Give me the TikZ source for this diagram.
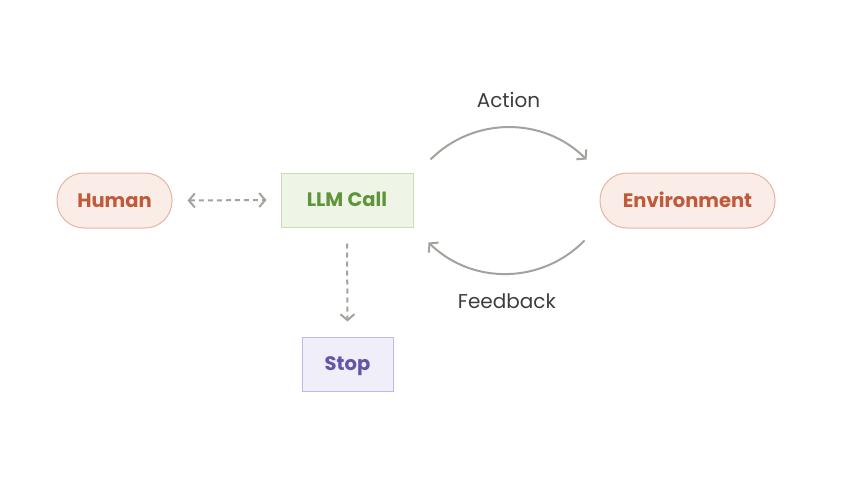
\documentclass[tikz,border=0pt]{standalone}
\usepackage{fontspec}
\setmainfont{Poppins}
\usetikzlibrary{arrows.meta,positioning}
\definecolor{pillfill}{HTML}{FAEDE8}
\definecolor{pilledge}{HTML}{E9B3A1}
\definecolor{pilltext}{HTML}{BF5A3A}
\definecolor{llmfill}{HTML}{EEF5E6}
\definecolor{llmedge}{HTML}{C6E0B2}
\definecolor{llmtext}{HTML}{5E953A}
\definecolor{stopfill}{HTML}{EFEEF9}
\definecolor{stopedge}{HTML}{BFB8E6}
\definecolor{stoptext}{HTML}{6356A8}
\definecolor{linkgray}{HTML}{A3A29C}
\definecolor{labeltext}{HTML}{3D3D3A}
\tikzset{
  boxtext/.style={text height=15pt, text depth=2pt, font=\fontsize{19.5}{22}\selectfont\bfseries},
  pill/.style={boxtext, draw=pilledge, fill=pillfill, text=pilltext, rounded corners=27pt, line width=1pt,
    minimum height=55pt},
  llmbox/.style={boxtext, draw=llmedge, fill=llmfill, text=llmtext, line width=1pt,
    minimum width=132pt, minimum height=54pt},
  stopbox/.style={boxtext, draw=stopedge, fill=stopfill, text=stoptext, line width=1pt,
    minimum width=91pt, minimum height=54pt},
  link/.style={draw=linkgray, line width=2pt, -{Straight Barb[length=6pt,width=14pt]}},
  dashlink/.style={link, dash pattern=on 5pt off 4pt},
  looplabel/.style={text=labeltext, font=\fontsize{20}{23}\selectfont}
}
\begin{document}
\begin{tikzpicture}[x=1pt,y=-1pt]
\useasboundingbox (0,0) rectangle (856,503);
% boxes
\node[pill, minimum width=115pt] (human) at (114.5,200.5) {Human};
\node[llmbox] (llm) at (347,200) {LLM Call};
\node[pill, minimum width=175pt] (env) at (687.5,200.5) {Environment};
\node[stopbox] (stop) at (347.5,364) {Stop};

% human <-> llm, llm -> stop
\draw[dashlink, {Straight Barb[length=6pt,width=14pt]}-{Straight Barb[length=6pt,width=14pt]}]
  ([xshift=15pt]human.east) -- ([xshift=-14pt]llm.west);
\draw[dashlink] ([yshift=-16pt]llm.south) -- ([yshift=15pt]stop.north);

% loop with the environment
\draw[link] ([shift={(17,-13)}]llm.north east) to[bend left=45]
  node[looplabel, above=15pt] (act) {Action} ([shift={(-13,-13)}]env.north west);
\draw[link] ([shift={(-15,12)}]env.south west) to[bend left=45]
  node[looplabel, below=15pt] (fb) {Feedback} ([shift={(15,15)}]llm.south east);
\end{tikzpicture}
\end{document}
